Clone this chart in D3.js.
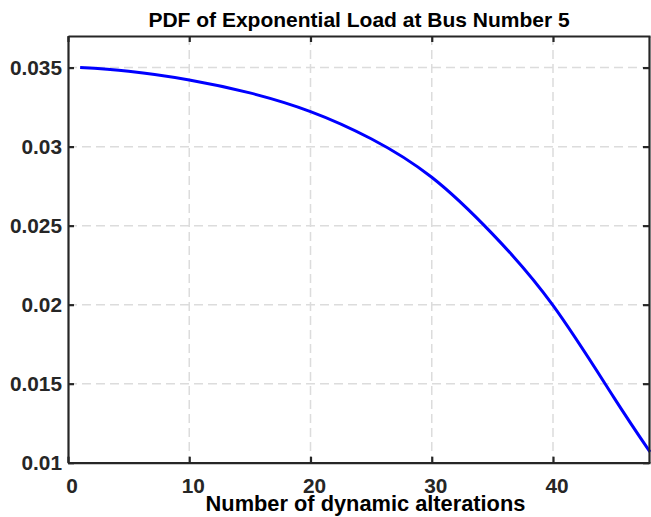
<!DOCTYPE html>
<html>
<head>
<meta charset="utf-8">
<script src="https://cdn.jsdelivr.net/npm/d3@7"></script>
<style>
  html, body { margin: 0; padding: 0; background: #ffffff; }
  svg { display: block; }
  text { font-family: "Liberation Sans", Arial, Helvetica, sans-serif; font-weight: bold; }
</style>
</head>
<body>
<svg id="chart" width="651" height="517"></svg>
<script>
// Probability density of the exponential load at bus 5
const alterations = [1, 5, 10, 15, 20, 25, 30, 35, 40, 45, 48];
const density     = [0.03500, 0.03477, 0.03422, 0.03340, 0.03222, 0.03050, 0.02806, 0.02448, 0.01995, 0.01415, 0.01068];

const xTicks = [0, 10, 20, 30, 40];
const yTicks = [0.01, 0.015, 0.02, 0.025, 0.03, 0.035];
const yTickLabels = ["0.01", "0.015", "0.02", "0.025", "0.03", "0.035"];

const titleText = "PDF of Exponential Load at Bus Number 5";
const xLabelText = "Number of dynamic alterations";

const svg = d3.select("#chart");
const W = 651, H = 517;
const margin = { left: 68, right: 1, top: 36, bottom: 54.3 };

const x = d3.scaleLinear().domain([0, 48]).range([margin.left, W - margin.right]);
const y = d3.scaleLinear().domain([0.01, 0.037]).range([H - margin.bottom, margin.top]);

const axisColor = "#262626";
const gridColor = "#dcdcdc";

// dashed grid
const grid = svg.append("g");
grid.selectAll("line.gx").data(xTicks.filter(d => d > 0)).enter().append("line")
  .attr("x1", d => x(d)).attr("x2", d => x(d))
  .attr("y1", y.range()[1]).attr("y2", y.range()[0])
  .attr("stroke", gridColor).attr("stroke-width", 1.5).attr("stroke-dasharray", "9,5");
grid.selectAll("line.gy").data(yTicks.filter(d => d > 0.01)).enter().append("line")
  .attr("x1", x.range()[0]).attr("x2", x.range()[1])
  .attr("y1", d => y(d)).attr("y2", d => y(d))
  .attr("stroke", gridColor).attr("stroke-width", 1.5).attr("stroke-dasharray", "9,5");

// density curve
const line = d3.line()
  .x((d, i) => x(alterations[i]))
  .y(d => y(d))
  .curve(d3.curveNatural);

svg.append("path")
  .datum(density)
  .attr("d", line)
  .attr("fill", "none")
  .attr("stroke", "#0000ff")
  .attr("stroke-width", 3);

// axes with inward ticks, boxed
const tickLen = 6;
const axBottom = svg.append("g").attr("transform", `translate(0,${y.range()[0]})`)
  .call(d3.axisBottom(x).tickValues(xTicks).tickSizeInner(-tickLen).tickSizeOuter(0).tickPadding(15.5));
const axTop = svg.append("g").attr("transform", `translate(0,${y.range()[1]})`)
  .call(d3.axisTop(x).tickValues(xTicks).tickSizeInner(-tickLen).tickSizeOuter(0).tickFormat(""));
const axLeft = svg.append("g").attr("transform", `translate(${x.range()[0]},0)`)
  .call(d3.axisLeft(y).tickValues(yTicks).tickSizeInner(-tickLen).tickSizeOuter(0)
    .tickFormat((d, i) => yTickLabels[i]).tickPadding(6));
const axRight = svg.append("g").attr("transform", `translate(${x.range()[1] - 1},0)`)
  .call(d3.axisRight(y).tickValues(yTicks).tickSizeInner(-tickLen).tickSizeOuter(0).tickFormat(""));

[axBottom, axTop, axLeft, axRight].forEach(g => {
  g.select(".domain").attr("stroke", axisColor).attr("stroke-width", 2.2);
  g.selectAll(".tick line").attr("stroke", axisColor).attr("stroke-width", 2.2);
  g.selectAll(".tick text").attr("fill", axisColor).style("font-size", "20.8px")
    .style("font-family", "'Liberation Sans', Arial, sans-serif").style("font-weight", "bold");
});
axBottom.selectAll(".tick text").attr("dx", 3.5);

// title and axis label
svg.append("text")
  .attr("x", (x.range()[0] + x.range()[1]) / 2)
  .attr("y", 26.5)
  .attr("text-anchor", "middle")
  .attr("fill", "#000000")
  .style("font-size", "21px")
  .text(titleText);

svg.append("text")
  .attr("x", (x.range()[0] + x.range()[1]) / 2 + 6.5)
  .attr("y", 510.5)
  .attr("text-anchor", "middle")
  .attr("fill", "#000000")
  .style("font-size", "21.8px")
  .text(xLabelText);
</script>
</body>
</html>
